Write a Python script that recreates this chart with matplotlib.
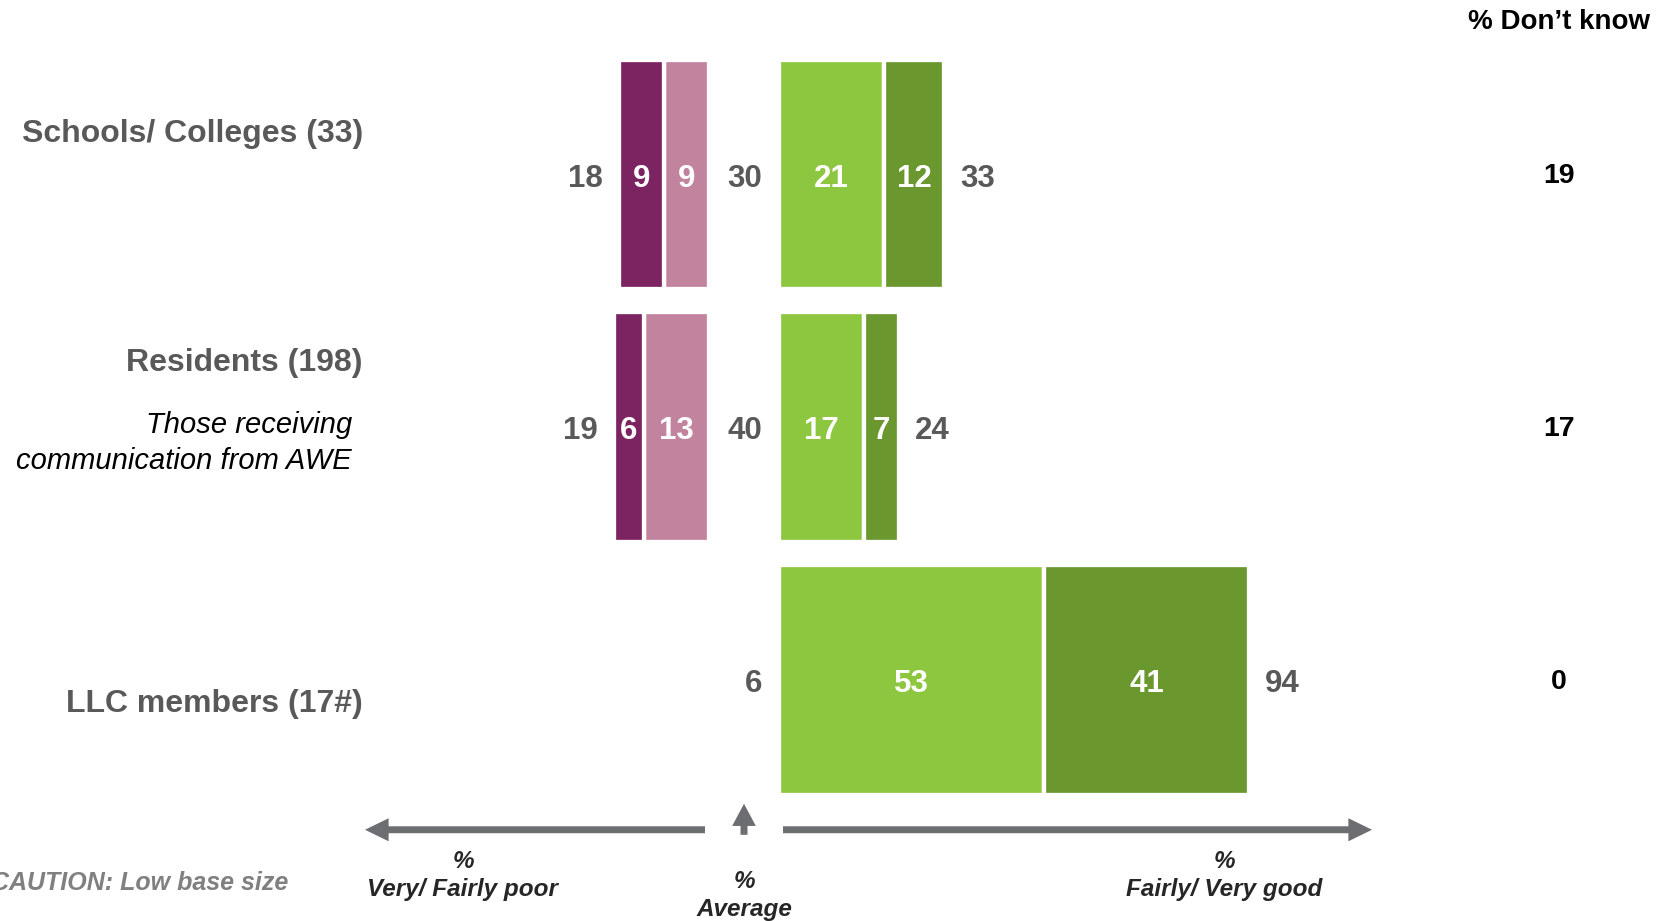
import numpy as np
import matplotlib.pyplot as plt
from matplotlib.patches import FancyArrowPatch

plt.rcParams['font.family'] = ['Liberation Sans', 'DejaVu Sans']

groups = ['Schools/ Colleges (33)', 'Residents (198)', 'LLC members (17#)']
very_poor = [9, 6, 0]
fairly_poor = [9, 13, 0]
average = [30, 40, 6]
fairly_good = [21, 17, 53]
very_good = [12, 7, 41]
total_poor = [18, 19, None]
total_good = [33, 24, 94]
dont_know = [19, 17, 0]

# label y offsets (in rows) for the group names
name_dy = [-0.159, -0.254, 0.096]

c_vpoor = '#7B2461'
c_fpoor = '#C1839D'
c_fgood = '#8DC63F'
c_vgood = '#6A972E'
c_num = '#595959'
c_arrow = '#6D6E71'

gap = 7.0       # half-width of the "average" column
off = 6.7       # distance of totals from bar ends
h = 0.908
tdy = 0.017     # nudge so digits sit visually centred on the bars

fig = plt.figure(figsize=(16.71, 9.21), dpi=100)
ax = fig.add_axes([0, 0, 1, 1])
ax.set_xlim(-148.8, 185.4)
ax.set_ylim(2.954, -0.690)
ax.axis('off')

y = np.arange(len(groups))
vp = np.array(very_poor)
fp = np.array(fairly_poor)
fg = np.array(fairly_good)
vg = np.array(very_good)

bkw = dict(height=h, edgecolor='white', linewidth=3.1)
ax.barh(y, -fp, left=-gap, color=c_fpoor, **bkw)
ax.barh(y, -vp, left=-gap - fp, color=c_vpoor, **bkw)
ax.barh(y, fg, left=gap, color=c_fgood, **bkw)
ax.barh(y, vg, left=gap + fg, color=c_vgood, **bkw)

nkw = dict(fontsize=22.5, fontweight='bold', va='center')
for i in range(len(groups)):
    yt = i + tdy
    # segment values
    for val, x0, sgn in [(fp[i], -gap, -1), (vp[i], -gap - fp[i], -1),
                         (fg[i], gap, 1), (vg[i], gap + fg[i], 1)]:
        if val > 0:
            ax.text(x0 + sgn * val / 2, yt, str(val), color='white', ha='center', **nkw)
    if total_poor[i] is not None:
        ax.text(-gap - total_poor[i] - off, yt, str(total_poor[i]), color=c_num, ha='center', **nkw)
    ax.text(gap + total_good[i] + off, yt, str(total_good[i]), color=c_num, ha='center', **nkw)
    ax.text(3.6, yt, str(average[i]), color=c_num, ha='right', **nkw)
    ax.text(163, i + 0.008, str(dont_know[i]), color='black', ha='center', va='center',
            fontsize=20.5, fontweight='bold')
    ax.text(-76.2, i + name_dy[i], groups[i], color=c_num, ha='right', va='center',
            fontsize=23, fontweight='bold')

ax.text(-78.4, 1.063, 'Those receiving\ncommunication from AWE', ha='right', va='center',
        fontsize=21, fontstyle='italic', color='black', linespacing=1.34)
ax.text(163, -0.603, '% Don\u2019t know', ha='center', va='center',
        fontsize=20, fontweight='bold', color='black')

# axis arrows
ay = len(groups) - 1 + 0.593
akw = dict(arrowstyle='simple,head_length=17,head_width=16.6,tail_width=5',
           mutation_scale=1, color=c_arrow, lw=0, shrinkA=0, shrinkB=0)
ax.add_patch(FancyArrowPatch((-7.8, ay), (-75.8, ay), **akw))
ax.add_patch(FancyArrowPatch((7.8, ay), (125.6, ay), **akw))
ax.add_patch(FancyArrowPatch((0, 2.613), (0, 2.490),
                             arrowstyle='simple,head_length=16,head_width=17,tail_width=5',
                             mutation_scale=1, color=c_arrow, lw=0, shrinkA=0, shrinkB=0))

lkw = dict(ha='center', va='center', fontsize=17.5, fontweight='bold',
           fontstyle='italic', color='#262626', linespacing=1.3)
ax.text(-56.2, 2.775, '%\nVery/ Fairly poor', **lkw)
ax.text(0, 2.853, '%\nAverage', **lkw)
ax.text(96.0, 2.775, '%\nFairly/ Very good', **lkw)

# the source slide has this note running off the left edge
ax.text(-91.2, 2.803, 'CAUTION: Low base size', ha='right', va='center', fontsize=18,
        fontweight='bold', fontstyle='italic', color='#808080')

fig.savefig('out.png', dpi=100)
